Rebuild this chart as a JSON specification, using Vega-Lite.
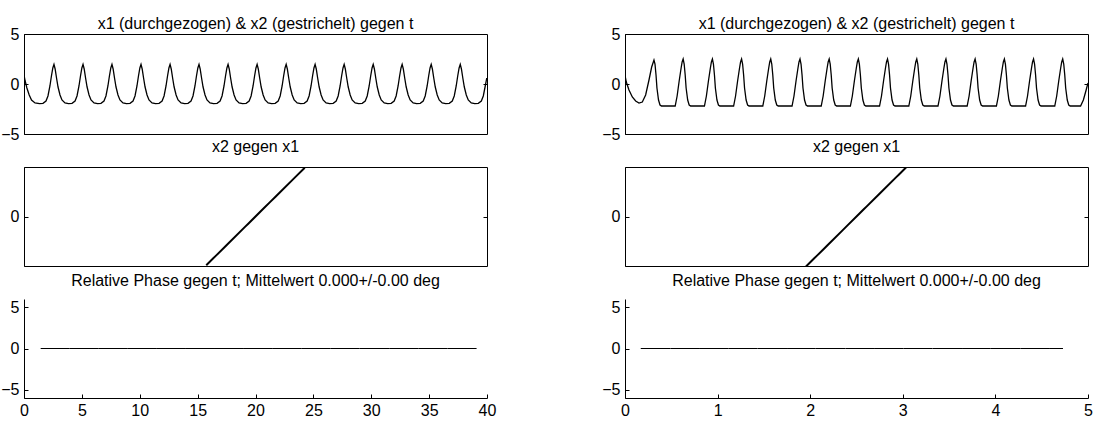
{
  "$schema": "https://vega.github.io/schema/vega-lite/v6.json",
  "background": "white",
  "padding": {"left": 0, "top": 15, "right": 0, "bottom": 0},
  "config": {
    "font": "Liberation Sans",
    "view": {"stroke": "black", "strokeWidth": 1},
    "axis": {"domainColor": "black", "tickColor": "black", "labelColor": "black", "labelFont": "Liberation Sans", "labelFontSize": 16, "grid": false, "domainWidth": 1, "tickWidth": 1, "labelFlush": false, "labelOverlap": false},
    "title": {"fontSize": 16, "fontWeight": "normal", "color": "black", "font": "Liberation Sans", "anchor": "middle"},
    "line": {"color": "black", "strokeWidth": 1.3}
  },
  "datasets": {
    "topL": [
      {"t":0,"v":0.9},{"t":0.1,"v":0.3},{"t":0.25,"v":-0.4},{"t":0.45,"v":-1.1},{"t":0.65,"v":-1.6},{"t":0.95,"v":-1.9},{"t":1.34,"v":-1.97},
      {"t":1.64,"v":-1.93},{"t":1.90,"v":-1.7},{"t":2.07,"v":-1.2},{"t":2.24,"v":-0.2},{"t":2.37,"v":0.8},{"t":2.49,"v":1.6},{"t":2.59,"v":1.97},{"t":2.69,"v":1.5},{"t":2.81,"v":0.6},{"t":2.94,"v":-0.3},{"t":3.11,"v":-1.1},{"t":3.28,"v":-1.6},{"t":3.54,"v":-1.9},{"t":3.84,"v":-1.97},
      {"t":4.15,"v":-1.93},{"t":4.41,"v":-1.7},{"t":4.58,"v":-1.2},{"t":4.75,"v":-0.2},{"t":4.88,"v":0.8},{"t":5.00,"v":1.6},{"t":5.10,"v":1.97},{"t":5.20,"v":1.5},{"t":5.32,"v":0.6},{"t":5.45,"v":-0.3},{"t":5.62,"v":-1.1},{"t":5.79,"v":-1.6},{"t":6.05,"v":-1.9},{"t":6.35,"v":-1.97},
      {"t":6.65,"v":-1.93},{"t":6.91,"v":-1.7},{"t":7.08,"v":-1.2},{"t":7.25,"v":-0.2},{"t":7.38,"v":0.8},{"t":7.50,"v":1.6},{"t":7.60,"v":1.97},{"t":7.70,"v":1.5},{"t":7.82,"v":0.6},{"t":7.95,"v":-0.3},{"t":8.12,"v":-1.1},{"t":8.29,"v":-1.6},{"t":8.55,"v":-1.9},{"t":8.85,"v":-1.97},
      {"t":9.16,"v":-1.93},{"t":9.42,"v":-1.7},{"t":9.59,"v":-1.2},{"t":9.76,"v":-0.2},{"t":9.89,"v":0.8},{"t":10.01,"v":1.6},{"t":10.11,"v":1.97},{"t":10.21,"v":1.5},{"t":10.33,"v":0.6},{"t":10.46,"v":-0.3},{"t":10.63,"v":-1.1},{"t":10.80,"v":-1.6},{"t":11.06,"v":-1.9},{"t":11.36,"v":-1.97},
      {"t":11.67,"v":-1.93},{"t":11.93,"v":-1.7},{"t":12.10,"v":-1.2},{"t":12.27,"v":-0.2},{"t":12.40,"v":0.8},{"t":12.52,"v":1.6},{"t":12.62,"v":1.97},{"t":12.72,"v":1.5},{"t":12.84,"v":0.6},{"t":12.97,"v":-0.3},{"t":13.14,"v":-1.1},{"t":13.31,"v":-1.6},{"t":13.57,"v":-1.9},{"t":13.87,"v":-1.97},
      {"t":14.17,"v":-1.93},{"t":14.43,"v":-1.7},{"t":14.60,"v":-1.2},{"t":14.77,"v":-0.2},{"t":14.90,"v":0.8},{"t":15.02,"v":1.6},{"t":15.12,"v":1.97},{"t":15.22,"v":1.5},{"t":15.34,"v":0.6},{"t":15.47,"v":-0.3},{"t":15.64,"v":-1.1},{"t":15.81,"v":-1.6},{"t":16.07,"v":-1.9},{"t":16.37,"v":-1.97},
      {"t":16.68,"v":-1.93},{"t":16.94,"v":-1.7},{"t":17.11,"v":-1.2},{"t":17.28,"v":-0.2},{"t":17.41,"v":0.8},{"t":17.53,"v":1.6},{"t":17.63,"v":1.97},{"t":17.73,"v":1.5},{"t":17.85,"v":0.6},{"t":17.98,"v":-0.3},{"t":18.15,"v":-1.1},{"t":18.32,"v":-1.6},{"t":18.58,"v":-1.9},{"t":18.88,"v":-1.97},
      {"t":19.19,"v":-1.93},{"t":19.45,"v":-1.7},{"t":19.62,"v":-1.2},{"t":19.79,"v":-0.2},{"t":19.92,"v":0.8},{"t":20.04,"v":1.6},{"t":20.14,"v":1.97},{"t":20.24,"v":1.5},{"t":20.36,"v":0.6},{"t":20.49,"v":-0.3},{"t":20.66,"v":-1.1},{"t":20.83,"v":-1.6},{"t":21.09,"v":-1.9},{"t":21.39,"v":-1.97},
      {"t":21.70,"v":-1.93},{"t":21.96,"v":-1.7},{"t":22.13,"v":-1.2},{"t":22.30,"v":-0.2},{"t":22.43,"v":0.8},{"t":22.55,"v":1.6},{"t":22.65,"v":1.97},{"t":22.75,"v":1.5},{"t":22.87,"v":0.6},{"t":23.00,"v":-0.3},{"t":23.17,"v":-1.1},{"t":23.34,"v":-1.6},{"t":23.60,"v":-1.9},{"t":23.90,"v":-1.97},
      {"t":24.20,"v":-1.93},{"t":24.46,"v":-1.7},{"t":24.63,"v":-1.2},{"t":24.80,"v":-0.2},{"t":24.93,"v":0.8},{"t":25.05,"v":1.6},{"t":25.15,"v":1.97},{"t":25.25,"v":1.5},{"t":25.37,"v":0.6},{"t":25.50,"v":-0.3},{"t":25.67,"v":-1.1},{"t":25.84,"v":-1.6},{"t":26.10,"v":-1.9},{"t":26.40,"v":-1.97},
      {"t":26.71,"v":-1.93},{"t":26.97,"v":-1.7},{"t":27.14,"v":-1.2},{"t":27.31,"v":-0.2},{"t":27.44,"v":0.8},{"t":27.56,"v":1.6},{"t":27.66,"v":1.97},{"t":27.76,"v":1.5},{"t":27.88,"v":0.6},{"t":28.01,"v":-0.3},{"t":28.18,"v":-1.1},{"t":28.35,"v":-1.6},{"t":28.61,"v":-1.9},{"t":28.91,"v":-1.97},
      {"t":29.22,"v":-1.93},{"t":29.48,"v":-1.7},{"t":29.65,"v":-1.2},{"t":29.82,"v":-0.2},{"t":29.95,"v":0.8},{"t":30.07,"v":1.6},{"t":30.17,"v":1.97},{"t":30.27,"v":1.5},{"t":30.39,"v":0.6},{"t":30.52,"v":-0.3},{"t":30.69,"v":-1.1},{"t":30.86,"v":-1.6},{"t":31.12,"v":-1.9},{"t":31.42,"v":-1.97},
      {"t":31.72,"v":-1.93},{"t":31.98,"v":-1.7},{"t":32.15,"v":-1.2},{"t":32.32,"v":-0.2},{"t":32.45,"v":0.8},{"t":32.57,"v":1.6},{"t":32.67,"v":1.97},{"t":32.77,"v":1.5},{"t":32.89,"v":0.6},{"t":33.02,"v":-0.3},{"t":33.19,"v":-1.1},{"t":33.36,"v":-1.6},{"t":33.62,"v":-1.9},{"t":33.92,"v":-1.97},
      {"t":34.23,"v":-1.93},{"t":34.49,"v":-1.7},{"t":34.66,"v":-1.2},{"t":34.83,"v":-0.2},{"t":34.96,"v":0.8},{"t":35.08,"v":1.6},{"t":35.18,"v":1.97},{"t":35.28,"v":1.5},{"t":35.40,"v":0.6},{"t":35.53,"v":-0.3},{"t":35.70,"v":-1.1},{"t":35.87,"v":-1.6},{"t":36.13,"v":-1.9},{"t":36.43,"v":-1.97},
      {"t":36.74,"v":-1.93},{"t":37.00,"v":-1.7},{"t":37.17,"v":-1.2},{"t":37.34,"v":-0.2},{"t":37.47,"v":0.8},{"t":37.59,"v":1.6},{"t":37.69,"v":1.97},{"t":37.79,"v":1.5},{"t":37.91,"v":0.6},{"t":38.04,"v":-0.3},{"t":38.21,"v":-1.1},{"t":38.38,"v":-1.6},{"t":38.64,"v":-1.9},{"t":38.94,"v":-1.97},
      {"t":39.25,"v":-1.93},{"t":39.51,"v":-1.7},{"t":39.68,"v":-1.2},{"t":39.85,"v":-0.2},{"t":39.98,"v":0.6}
    ],
    "topR": [
      {"t":0,"v":0.87},{"t":0.014,"v":0.2},{"t":0.043,"v":-0.6},{"t":0.079,"v":-1.3},{"t":0.115,"v":-1.7},{"t":0.151,"v":-1.9},{"t":0.187,"v":-1.8},{"t":0.223,"v":-1.1},{"t":0.259,"v":0.4},{"t":0.288,"v":1.7},{"t":0.313,"v":2.4},
      {"t":0.324,"v":2.0},{"t":0.335,"v":0.9},{"t":0.345,"v":-0.4},{"t":0.362,"v":-1.6},{"t":0.378,"v":-2.1},{"t":0.394,"v":-2.2},
      {"t":0.542,"v":-2.2},{"t":0.563,"v":-1.2},{"t":0.585,"v":0.3},{"t":0.606,"v":1.6},{"t":0.617,"v":2.2},{"t":0.628,"v":2.5},{"t":0.639,"v":2.0},{"t":0.650,"v":0.9},{"t":0.660,"v":-0.4},{"t":0.677,"v":-1.6},{"t":0.693,"v":-2.1},{"t":0.709,"v":-2.2},
      {"t":0.858,"v":-2.2},{"t":0.879,"v":-1.2},{"t":0.901,"v":0.3},{"t":0.922,"v":1.6},{"t":0.933,"v":2.2},{"t":0.944,"v":2.5},{"t":0.955,"v":2.0},{"t":0.966,"v":0.9},{"t":0.976,"v":-0.4},{"t":0.993,"v":-1.6},{"t":1.009,"v":-2.1},{"t":1.025,"v":-2.2},
      {"t":1.173,"v":-2.2},{"t":1.194,"v":-1.2},{"t":1.216,"v":0.3},{"t":1.237,"v":1.6},{"t":1.248,"v":2.2},{"t":1.259,"v":2.5},{"t":1.270,"v":2.0},{"t":1.281,"v":0.9},{"t":1.291,"v":-0.4},{"t":1.308,"v":-1.6},{"t":1.324,"v":-2.1},{"t":1.340,"v":-2.2},
      {"t":1.488,"v":-2.2},{"t":1.509,"v":-1.2},{"t":1.531,"v":0.3},{"t":1.552,"v":1.6},{"t":1.563,"v":2.2},{"t":1.574,"v":2.5},{"t":1.585,"v":2.0},{"t":1.596,"v":0.9},{"t":1.606,"v":-0.4},{"t":1.623,"v":-1.6},{"t":1.639,"v":-2.1},{"t":1.655,"v":-2.2},
      {"t":1.804,"v":-2.2},{"t":1.825,"v":-1.2},{"t":1.847,"v":0.3},{"t":1.868,"v":1.6},{"t":1.879,"v":2.2},{"t":1.890,"v":2.5},{"t":1.901,"v":2.0},{"t":1.912,"v":0.9},{"t":1.922,"v":-0.4},{"t":1.939,"v":-1.6},{"t":1.955,"v":-2.1},{"t":1.971,"v":-2.2},
      {"t":2.119,"v":-2.2},{"t":2.140,"v":-1.2},{"t":2.162,"v":0.3},{"t":2.183,"v":1.6},{"t":2.194,"v":2.2},{"t":2.205,"v":2.5},{"t":2.216,"v":2.0},{"t":2.227,"v":0.9},{"t":2.237,"v":-0.4},{"t":2.254,"v":-1.6},{"t":2.270,"v":-2.1},{"t":2.286,"v":-2.2},
      {"t":2.434,"v":-2.2},{"t":2.455,"v":-1.2},{"t":2.477,"v":0.3},{"t":2.498,"v":1.6},{"t":2.509,"v":2.2},{"t":2.520,"v":2.5},{"t":2.531,"v":2.0},{"t":2.542,"v":0.9},{"t":2.552,"v":-0.4},{"t":2.569,"v":-1.6},{"t":2.585,"v":-2.1},{"t":2.601,"v":-2.2},
      {"t":2.749,"v":-2.2},{"t":2.770,"v":-1.2},{"t":2.792,"v":0.3},{"t":2.813,"v":1.6},{"t":2.824,"v":2.2},{"t":2.835,"v":2.5},{"t":2.846,"v":2.0},{"t":2.857,"v":0.9},{"t":2.867,"v":-0.4},{"t":2.884,"v":-1.6},{"t":2.900,"v":-2.1},{"t":2.916,"v":-2.2},
      {"t":3.065,"v":-2.2},{"t":3.086,"v":-1.2},{"t":3.108,"v":0.3},{"t":3.129,"v":1.6},{"t":3.140,"v":2.2},{"t":3.151,"v":2.5},{"t":3.162,"v":2.0},{"t":3.173,"v":0.9},{"t":3.183,"v":-0.4},{"t":3.200,"v":-1.6},{"t":3.216,"v":-2.1},{"t":3.232,"v":-2.2},
      {"t":3.380,"v":-2.2},{"t":3.401,"v":-1.2},{"t":3.423,"v":0.3},{"t":3.444,"v":1.6},{"t":3.455,"v":2.2},{"t":3.466,"v":2.5},{"t":3.477,"v":2.0},{"t":3.488,"v":0.9},{"t":3.498,"v":-0.4},{"t":3.515,"v":-1.6},{"t":3.531,"v":-2.1},{"t":3.547,"v":-2.2},
      {"t":3.695,"v":-2.2},{"t":3.716,"v":-1.2},{"t":3.738,"v":0.3},{"t":3.759,"v":1.6},{"t":3.770,"v":2.2},{"t":3.781,"v":2.5},{"t":3.792,"v":2.0},{"t":3.803,"v":0.9},{"t":3.813,"v":-0.4},{"t":3.830,"v":-1.6},{"t":3.846,"v":-2.1},{"t":3.862,"v":-2.2},
      {"t":4.011,"v":-2.2},{"t":4.032,"v":-1.2},{"t":4.054,"v":0.3},{"t":4.075,"v":1.6},{"t":4.086,"v":2.2},{"t":4.097,"v":2.5},{"t":4.108,"v":2.0},{"t":4.119,"v":0.9},{"t":4.129,"v":-0.4},{"t":4.146,"v":-1.6},{"t":4.162,"v":-2.1},{"t":4.178,"v":-2.2},
      {"t":4.326,"v":-2.2},{"t":4.347,"v":-1.2},{"t":4.369,"v":0.3},{"t":4.390,"v":1.6},{"t":4.401,"v":2.2},{"t":4.412,"v":2.5},{"t":4.423,"v":2.0},{"t":4.434,"v":0.9},{"t":4.444,"v":-0.4},{"t":4.461,"v":-1.6},{"t":4.477,"v":-2.1},{"t":4.493,"v":-2.2},
      {"t":4.641,"v":-2.2},{"t":4.662,"v":-1.2},{"t":4.684,"v":0.3},{"t":4.705,"v":1.6},{"t":4.716,"v":2.2},{"t":4.727,"v":2.5},{"t":4.738,"v":2.0},{"t":4.749,"v":0.9},{"t":4.759,"v":-0.4},{"t":4.776,"v":-1.6},{"t":4.792,"v":-2.1},{"t":4.808,"v":-2.2},
      {"t":4.92,"v":-2.2},{"t":4.95,"v":-1.6},{"t":4.98,"v":-0.6},{"t":5.0,"v":0.1}
    ],
    "phL": [
      {"t":1.44,"p":0},{"t":3.95,"p":0},{"t":6.46,"p":0},{"t":8.97,"p":0},{"t":11.48,"p":0},{"t":13.99,"p":0},{"t":16.5,"p":0},{"t":19.0,"p":0},{"t":21.5,"p":0},{"t":24.0,"p":0},{"t":26.5,"p":0},{"t":29.0,"p":0},{"t":31.6,"p":0},{"t":34.1,"p":0},{"t":36.6,"p":0},{"t":39.1,"p":0}
    ],
    "phR": [
      {"t":0.17,"p":0},{"t":0.49,"p":0},{"t":0.80,"p":0},{"t":1.12,"p":0},{"t":1.43,"p":0},{"t":1.75,"p":0},{"t":2.06,"p":0},{"t":2.38,"p":0},{"t":2.69,"p":0},{"t":3.01,"p":0},{"t":3.32,"p":0},{"t":3.64,"p":0},{"t":3.95,"p":0},{"t":4.27,"p":0},{"t":4.58,"p":0},{"t":4.73,"p":0}
    ]
  },
  "columns": 2,
  "spacing": {"row": 33, "column": 138},
  "bounds": "flush",
  "concat": [
    {
      "width": 463, "height": 100,
      "title": {"text": "x1 (durchgezogen) & x2 (gestrichelt) gegen t", "offset": -6},
      "data": {"name": "topL"},
      "encoding": {
        "x": {"field": "t", "type": "quantitative", "scale": {"domain": [0, 40], "nice": false, "zero": false}, "axis": null},
        "y": {"field": "v", "type": "quantitative", "scale": {"domain": [-5, 5], "nice": false}}
      },
      "layer": [
        {"mark": {"type": "line", "clip": true}, "encoding": {"y": {"field": "v", "type": "quantitative", "axis": {"values": [-5, 0, 5], "title": null, "tickSize": -4, "labelPadding": 9, "orient": "left"}}}},
        {"mark": {"type": "line", "clip": true, "opacity": 0}, "encoding": {"y": {"field": "v", "type": "quantitative", "axis": {"values": [0], "title": null, "tickSize": -4, "labels": false, "domain": false, "orient": "right"}}}}
      ],
      "resolve": {"axis": {"y": "independent"}}
    },
    {
      "width": 463, "height": 100,
      "title": {"text": "x1 (durchgezogen) & x2 (gestrichelt) gegen t", "offset": -6},
      "data": {"name": "topR"},
      "encoding": {
        "x": {"field": "t", "type": "quantitative", "scale": {"domain": [0, 5], "nice": false, "zero": false}, "axis": null},
        "y": {"field": "v", "type": "quantitative", "scale": {"domain": [-5, 5], "nice": false}}
      },
      "layer": [
        {"mark": {"type": "line", "clip": true}, "encoding": {"y": {"field": "v", "type": "quantitative", "axis": {"values": [-5, 0, 5], "title": null, "tickSize": -4, "labelPadding": 9, "orient": "left"}}}},
        {"mark": {"type": "line", "clip": true, "opacity": 0}, "encoding": {"y": {"field": "v", "type": "quantitative", "axis": {"values": [0], "title": null, "tickSize": -4, "labels": false, "domain": false, "orient": "right"}}}}
      ],
      "resolve": {"axis": {"y": "independent"}}
    },
    {
      "width": 463, "height": 99,
      "title": {"text": "x2 gegen x1", "offset": 12},
      "data": {"name": "topL"},
      "encoding": {
        "x": {"field": "v", "type": "quantitative", "scale": {"domain": [-9.26, 9.26], "nice": false, "zero": false}, "axis": null},
        "y": {"field": "v", "type": "quantitative", "scale": {"domain": [-2, 2], "nice": false}}
      },
      "layer": [
        {"mark": {"type": "line", "clip": true, "strokeWidth": 2}, "encoding": {"y": {"field": "v", "type": "quantitative", "axis": {"values": [0], "title": null, "tickSize": -4, "labelPadding": 9, "orient": "left"}}}},
        {"mark": {"type": "line", "clip": true, "opacity": 0}, "encoding": {"y": {"field": "v", "type": "quantitative", "axis": {"values": [0], "title": null, "tickSize": -4, "labels": false, "domain": false, "orient": "right"}}}}
      ],
      "resolve": {"axis": {"y": "independent"}}
    },
    {
      "width": 463, "height": 99,
      "title": {"text": "x2 gegen x1", "offset": 12},
      "data": {"name": "topR"},
      "encoding": {
        "x": {"field": "v", "type": "quantitative", "scale": {"domain": [-9.26, 9.26], "nice": false, "zero": false}, "axis": null},
        "y": {"field": "v", "type": "quantitative", "scale": {"domain": [-2, 2], "nice": false}}
      },
      "layer": [
        {"mark": {"type": "line", "clip": true, "strokeWidth": 2}, "encoding": {"y": {"field": "v", "type": "quantitative", "axis": {"values": [0], "title": null, "tickSize": -4, "labelPadding": 9, "orient": "left"}}}},
        {"mark": {"type": "line", "clip": true, "opacity": 0}, "encoding": {"y": {"field": "v", "type": "quantitative", "axis": {"values": [0], "title": null, "tickSize": -4, "labels": false, "domain": false, "orient": "right"}}}}
      ],
      "resolve": {"axis": {"y": "independent"}}
    },
    {
      "width": 463, "height": 99,
      "view": {"stroke": null},
      "title": {"text": "Relative Phase gegen t; Mittelwert 0.000+/-0.00 deg", "offset": 10},
      "data": {"name": "phL"},
      "mark": {"type": "line", "strokeWidth": 1},
      "encoding": {
        "x": {"field": "t", "type": "quantitative", "scale": {"domain": [0, 40], "nice": false, "zero": false}, "axis": {"values": [0, 5, 10, 15, 20, 25, 30, 35, 40], "title": null, "tickSize": -4, "labelPadding": 8}},
        "y": {"field": "p", "type": "quantitative", "scale": {"domain": [-6, 6], "nice": false}, "axis": {"values": [-5, 0, 5], "title": null, "tickSize": -4, "labelPadding": 9}}
      }
    },
    {
      "width": 463, "height": 99,
      "view": {"stroke": null},
      "title": {"text": "Relative Phase gegen t; Mittelwert 0.000+/-0.00 deg", "offset": 10},
      "data": {"name": "phR"},
      "mark": {"type": "line", "strokeWidth": 1},
      "encoding": {
        "x": {"field": "t", "type": "quantitative", "scale": {"domain": [0, 5], "nice": false, "zero": false}, "axis": {"values": [0, 1, 2, 3, 4, 5], "title": null, "tickSize": -4, "labelPadding": 8}},
        "y": {"field": "p", "type": "quantitative", "scale": {"domain": [-6, 6], "nice": false}, "axis": {"values": [-5, 0, 5], "title": null, "tickSize": -4, "labelPadding": 9}}
      }
    }
  ]
}
